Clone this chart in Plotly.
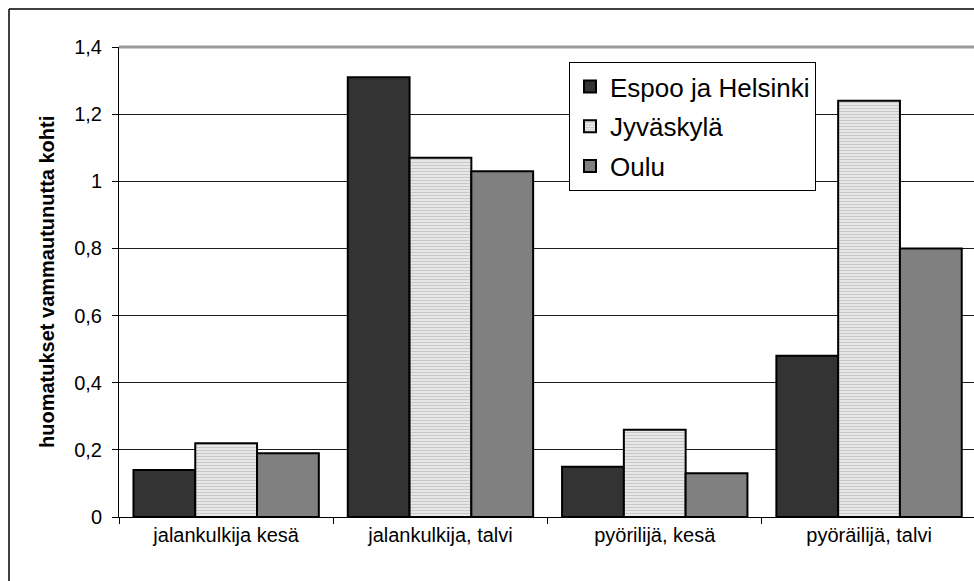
import plotly.graph_objects as go

# Category labels and injury-report rates per series
categories = ["jalankulkija kesä", "jalankulkija, talvi", "pyörilijä, kesä", "pyöräilijä, talvi"]
espoo_helsinki = [0.14, 1.31, 0.15, 0.48]
jyvaskyla = [0.22, 1.07, 0.26, 1.24]
oulu = [0.19, 1.03, 0.13, 0.80]
y_title = "huomatukset vammautunutta kohti"

W, H = 974, 581
L, T, B = 119, 47, 64          # margins in px
plot_w = W - L
plot_h = H - T - B

xpos = list(range(len(categories)))
outline = dict(color="black", width=2)

fig = go.Figure()
fig.add_trace(go.Bar(
    x=xpos, y=espoo_helsinki, name="Espoo ja Helsinki", legendgroup="a",
    marker=dict(color="#333333", line=outline),
))
fig.add_trace(go.Bar(
    x=xpos, y=jyvaskyla, name="Jyväskylä", legendgroup="b",
    marker=dict(color="#e4e4e4", line=outline,
                pattern=dict(shape="-", fgcolor="#a4a4a4", bgcolor="#ececec",
                             size=3, solidity=0.42)),
))
fig.add_trace(go.Bar(
    x=xpos, y=oulu, name="Oulu", legendgroup="c",
    marker=dict(color="#808080", line=outline),
))

# per-category band is ~214 px; the plot area runs slightly past the right edge
band_px = 214.3
x_max = -0.5 + plot_w / band_px

fig.update_layout(
    width=W, height=H,
    margin=dict(l=L, r=0, t=T, b=B),
    paper_bgcolor="white", plot_bgcolor="white",
    barmode="group", bargap=0.135, bargroupgap=0,
    separators=", ",
    font=dict(family="Liberation Sans, Arial, sans-serif", color="black"),
    showlegend=True,
    legend=dict(
        x=(569 - L) / plot_w, y=(H - B - 62) / plot_h,
        xanchor="left", yanchor="top",
        bgcolor="white", bordercolor="black", borderwidth=1,
        font=dict(size=26, color="black"),
        traceorder="grouped", tracegroupgap=3,
    ),
    xaxis=dict(
        range=[-0.5, x_max],
        tickvals=xpos, ticktext=categories,
        ticks="", tickfont=dict(size=20, color="black"),
        showgrid=False, zeroline=False,
        showline=True, linecolor="black", linewidth=1,
        minor=dict(tick0=0.5, dtick=1, ticks="outside", ticklen=6,
                   tickcolor="black", tickwidth=1, showgrid=False),
        fixedrange=True,
    ),
    yaxis=dict(
        range=[0, 1.4], dtick=0.2, tick0=0,
        ticks="outside", ticklen=6, tickcolor="black",
        tickfont=dict(size=20, color="black"),
        showgrid=True, gridcolor="#1a1a1a", gridwidth=1,
        zeroline=False,
        showline=True, linecolor="black", linewidth=1,
        ticklabelstandoff=6,
    ),
    annotations=[dict(
        text=f"<b>{y_title}</b>", textangle=-90,
        xref="paper", yref="paper",
        x=(47 - L) / plot_w, y=0.5, xanchor="center", yanchor="middle",
        showarrow=False, font=dict(size=20, color="black"),
    )],
    shapes=[
        # grey frame along the top of the plot area
        dict(type="line", xref="paper", yref="paper", x0=0, x1=1, y0=1, y1=1,
             line=dict(color="#9a9a9a", width=3), layer="above"),
        # outer chart border (continues past the right and bottom edges)
        dict(type="line", xref="paper", yref="paper",
             x0=(9 - L) / plot_w, x1=(9 - L) / plot_w,
             y0=(H - B - 9) / plot_h, y1=-0.5,
             line=dict(color="black", width=1.5)),
        dict(type="line", xref="paper", yref="paper",
             x0=(9 - L) / plot_w, x1=1.2,
             y0=(H - B - 9) / plot_h, y1=(H - B - 9) / plot_h,
             line=dict(color="black", width=1.5)),
    ],
)

fig.write_html("out.html")
